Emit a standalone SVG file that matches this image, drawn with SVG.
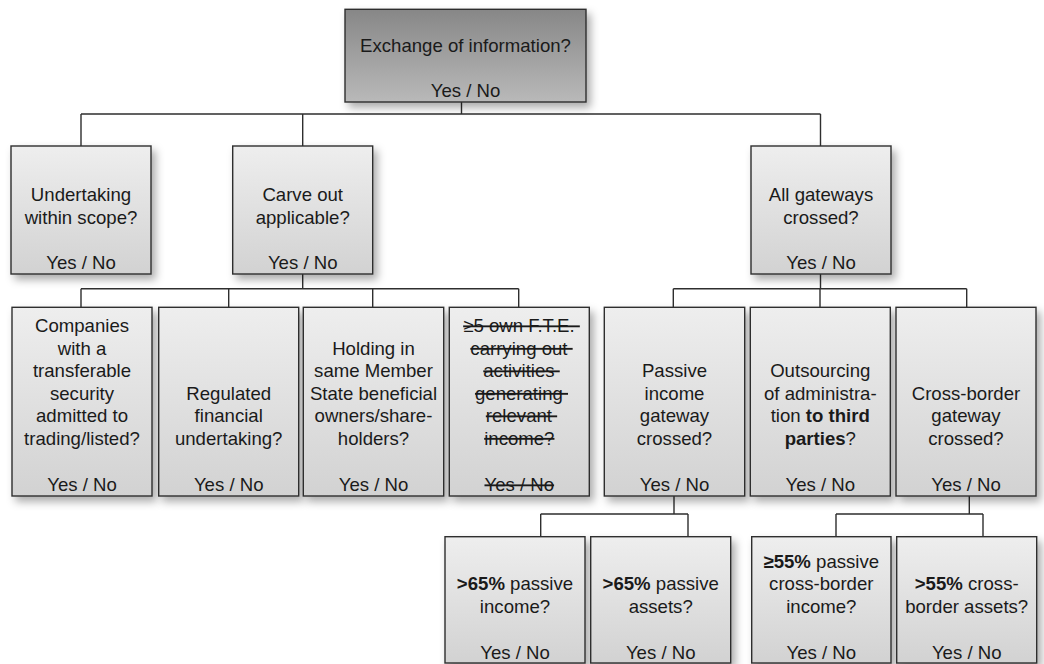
<svg xmlns="http://www.w3.org/2000/svg" width="1044" height="664" viewBox="0 0 1044 664">
<defs>
<linearGradient id="gLight" x1="0" y1="0" x2="0" y2="1">
<stop offset="0" stop-color="#eeeeee"/>
<stop offset="1" stop-color="#d2d2d2"/>
</linearGradient>
<linearGradient id="gDark" x1="0" y1="0" x2="0" y2="1">
<stop offset="0" stop-color="#878787"/>
<stop offset="1" stop-color="#b9b9b9"/>
</linearGradient>
<filter id="sh" x="-20%" y="-20%" width="150%" height="150%">
<feDropShadow dx="4" dy="5" stdDeviation="4.5" flood-color="#000" flood-opacity="0.33"/>
</filter>
</defs>
<style>
.box{fill:url(#gLight);stroke:#2e2e2e;stroke-width:1.4;filter:url(#sh)}
.top{fill:url(#gDark)}
text{font-family:"Liberation Sans",Arial,sans-serif;font-size:18.6px;fill:#1a1a1a;text-anchor:middle}
.b{font-weight:bold}
.st{text-decoration:line-through;white-space:pre}
.con{fill:none;stroke:#2e2e2e;stroke-width:1.4}
</style>
<rect width="1044" height="664" fill="#ffffff"/>
<g id="connectors" class="con">
<path d="M461.5 102V114M81 114H820.5M81 114V146M302.7 114V146M820.5 114V146"/>
<path d="M302.7 274V288.7M81 288.7H518.7M81 288.7V307.3M228.7 288.7V307.3M372.7 288.7V307.3M518.7 288.7V307.3"/>
<path d="M820.5 274V288.7M673.3 288.7H966.7M673.3 288.7V307.3M820 288.7V307.3M966.7 288.7V307.3"/>
<path d="M674 496V514M540.7 514H688M540.7 514V536.7M688 514V536.7"/>
<path d="M969.3 496V514M836 514H983M836 514V536.7M983 514V536.7"/>
</g>
<g id="n-exchange">
<rect class="box top" x="345" y="9.3" width="241" height="92.7"/>
<text x="465.5" y="51.5">Exchange of information?</text>
<text x="465.5" y="96.5">Yes / No</text>
</g>
<g id="n-undertaking">
<rect class="box" x="11" y="146" width="140" height="128"/>
<text x="81" y="201">Undertaking</text>
<text x="81" y="223.5">within scope?</text>
<text x="81" y="268.5">Yes / No</text>
</g>
<g id="n-carve">
<rect class="box" x="232.7" y="146" width="140" height="128"/>
<text x="302.7" y="201">Carve out</text>
<text x="302.7" y="223.5">applicable?</text>
<text x="302.7" y="268.5">Yes / No</text>
</g>
<g id="n-gateways">
<rect class="box" x="751" y="146" width="140" height="128"/>
<text x="821" y="201">All gateways</text>
<text x="821" y="223.5">crossed?</text>
<text x="821" y="268.5">Yes / No</text>
</g>
<g id="n-companies">
<rect class="box" x="12" y="307.3" width="140" height="188.7"/>
<text x="82" y="332">Companies</text>
<text x="82" y="354.5">with a</text>
<text x="82" y="377">transferable</text>
<text x="82" y="399.5">security</text>
<text x="82" y="422">admitted to</text>
<text x="82" y="444.5">trading/listed?</text>
<text x="82" y="491">Yes / No</text>
</g>
<g id="n-regulated">
<rect class="box" x="158.7" y="307.3" width="140" height="188.7"/>
<text x="228.7" y="399.5">Regulated</text>
<text x="228.7" y="422">financial</text>
<text x="228.7" y="444.5">undertaking?</text>
<text x="228.7" y="491">Yes / No</text>
</g>
<g id="n-holding">
<rect class="box" x="303.3" y="307.3" width="140.4" height="188.7"/>
<text x="373.5" y="354.5">Holding in</text>
<text x="373.5" y="377">same Member</text>
<text x="373.5" y="399.5">State beneficial</text>
<text x="373.5" y="422">owners/share-</text>
<text x="373.5" y="444.5">holders?</text>
<text x="373.5" y="491">Yes / No</text>
</g>
<g id="n-fte">
<rect class="box" x="449.3" y="307.3" width="140" height="188.7"/>
<text class="st" x="521.5" y="332">≥5 own F.T.E. </text>
<text class="st" x="521.5" y="354.5">carrying out </text>
<text class="st" x="521.5" y="377">activities </text>
<text class="st" x="521.5" y="399.5">generating </text>
<text class="st" x="521.5" y="422">relevant </text>
<text class="st" x="519.3" y="444.5">income?</text>
<text class="st" x="519.3" y="491">Yes / No</text>
</g>
<g id="n-passive">
<rect class="box" x="604.3" y="307.3" width="140.4" height="188.7"/>
<text x="674.5" y="377">Passive</text>
<text x="674.5" y="399.5">income</text>
<text x="674.5" y="422">gateway</text>
<text x="674.5" y="444.5">crossed?</text>
<text x="674.5" y="491">Yes / No</text>
</g>
<g id="n-outsourcing">
<rect class="box" x="750.3" y="307.3" width="140" height="188.7"/>
<text x="820.3" y="377">Outsourcing</text>
<text x="820.3" y="399.5">of administra-</text>
<text x="820.3" y="422">tion <tspan class="b">to third</tspan></text>
<text x="820.3" y="444.5"><tspan class="b">parties</tspan>?</text>
<text x="820.3" y="491">Yes / No</text>
</g>
<g id="n-crossborder">
<rect class="box" x="896" y="307.3" width="140" height="188.7"/>
<text x="966" y="399.5">Cross-border</text>
<text x="966" y="422">gateway</text>
<text x="966" y="444.5">crossed?</text>
<text x="966" y="491">Yes / No</text>
</g>
<g id="n-pinc">
<rect class="box" x="445" y="536.7" width="140" height="126.3"/>
<text x="515" y="590"><tspan class="b">&gt;65%</tspan> passive</text>
<text x="515" y="612.5">income?</text>
<text x="515" y="659">Yes / No</text>
</g>
<g id="n-passets">
<rect class="box" x="590.7" y="536.7" width="140" height="126.3"/>
<text x="660.7" y="590"><tspan class="b">&gt;65%</tspan> passive</text>
<text x="660.7" y="612.5">assets?</text>
<text x="660.7" y="659">Yes / No</text>
</g>
<g id="n-cbinc">
<rect class="box" x="751.7" y="536.7" width="139.3" height="126.3"/>
<text x="821.3" y="567.5"><tspan class="b">≥55%</tspan> passive</text>
<text x="821.3" y="590">cross-border</text>
<text x="821.3" y="612.5">income?</text>
<text x="821.3" y="659">Yes / No</text>
</g>
<g id="n-cbassets">
<rect class="box" x="896.7" y="536.7" width="140" height="126.3"/>
<text x="966.7" y="590"><tspan class="b">&gt;55%</tspan> cross-</text>
<text x="966.7" y="612.5">border assets?</text>
<text x="966.7" y="659">Yes / No</text>
</g>
</svg>
